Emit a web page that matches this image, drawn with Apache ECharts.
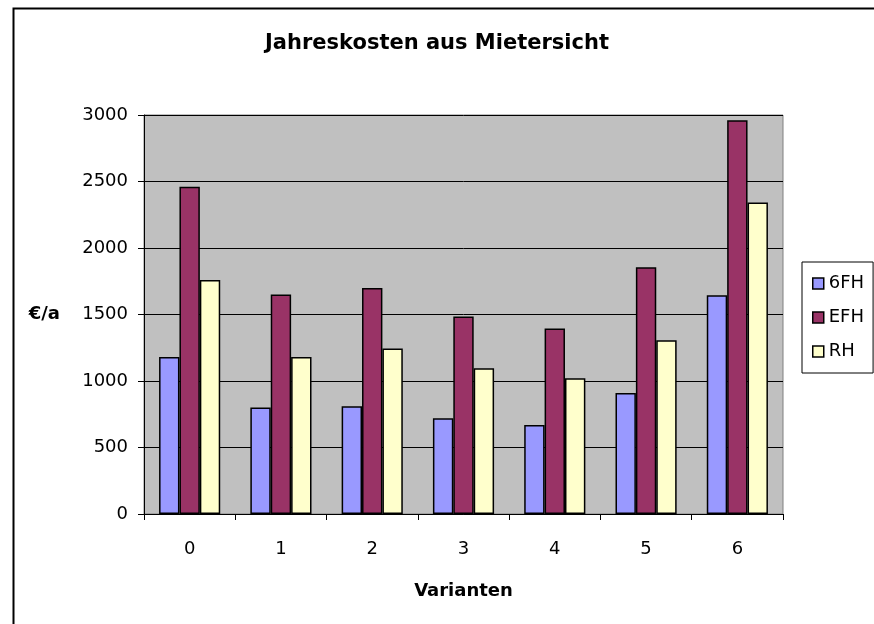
<!DOCTYPE html>
<html>
<head>
<meta charset="utf-8">
<script src="https://cdn.jsdelivr.net/npm/echarts@6/dist/echarts.min.js"></script>
<style>
    html, body { margin: 0; padding: 0; background: #fff; }
    #chart { width: 874px; height: 624px; }
</style>
</head>
<body>
<div id="chart"></div>
<script>
const categories = ["0", "1", "2", "3", "4", "5", "6"];
const seriesNames = ["6FH", "EFH", "RH"];
const values6FH = [1180, 800, 810, 720, 670, 910, 1645];
const valuesEFH = [2460, 1650, 1700, 1485, 1395, 1855, 2960];
const valuesRH = [1760, 1180, 1245, 1095, 1020, 1307, 2342];
const colors = ["#9999FF", "#993366", "#FFFFCC"];

const font = "DejaVu Sans";

let myChart = echarts.init(document.getElementById("chart"));

function makeSeries(name, data, color) {
    return {
        name: name,
        type: "bar",
        data: data,
        barGap: "0%",
        barCategoryGap: "33%",
        itemStyle: { color: color, borderColor: "#000", borderWidth: 1.5 }
    };
}

let option = {
    animation: false,
    title: {
        text: "Jahreskosten aus Mietersicht",
        left: "center",
        top: 28,
        textStyle: { fontFamily: font, fontSize: 21, fontWeight: "bold", color: "#000" }
    },
    graphic: [
        {
            type: "rect",
            left: 11,
            top: 6,
            shape: { width: 900, height: 700 },
            style: { fill: "none", stroke: "#000", lineWidth: 2 },
            silent: true
        }
    ],
    legend: {
        orient: "vertical",
        left: 802,
        top: 262,
        data: seriesNames,
        icon: "rect",
        itemWidth: 11,
        itemHeight: 11,
        itemGap: 13,
        itemStyle: { borderColor: "#000", borderWidth: 1.5 },
        padding: [11, 9, 11, 10],
        borderColor: "#000",
        borderWidth: 1,
        backgroundColor: "#fff",
        textStyle: { fontFamily: font, fontSize: 18, color: "#000", lineHeight: 21 }
    },
    grid: {
        left: 144,
        right: 91,
        top: 115,
        bottom: 110,
        show: true,
        backgroundColor: "#C0C0C0",
        borderColor: "#808080",
        borderWidth: 1
    },
    xAxis: {
        type: "category",
        data: categories,
        name: "Varianten",
        nameLocation: "middle",
        nameGap: 68,
        nameTextStyle: { fontFamily: font, fontSize: 18, fontWeight: "bold", color: "#000" },
        axisLine: { lineStyle: { color: "#000", width: 1 } },
        axisTick: { show: true, length: 6, lineStyle: { color: "#000" } },
        axisLabel: { fontFamily: font, fontSize: 18, color: "#000", margin: 26 }
    },
    yAxis: {
        type: "value",
        min: 0,
        max: 3000,
        interval: 500,
        name: "€/a",
        nameLocation: "middle",
        nameRotate: 0,
        nameGap: 84,
        nameTextStyle: { fontFamily: font, fontSize: 18, fontWeight: "bold", color: "#000" },
        axisLine: { show: true, lineStyle: { color: "#000", width: 1 } },
        axisTick: { show: true, length: 6, lineStyle: { color: "#000" } },
        axisLabel: {
            fontFamily: font,
            fontSize: 18,
            color: "#000",
            margin: 16,
            formatter: function (v) { return String(v); }
        },
        splitLine: { show: true, lineStyle: { color: "#000", width: 1 } }
    },
    series: [
        makeSeries(seriesNames[0], values6FH, colors[0]),
        makeSeries(seriesNames[1], valuesEFH, colors[1]),
        makeSeries(seriesNames[2], valuesRH, colors[2])
    ]
};

myChart.setOption(option);
</script>
</body>
</html>
